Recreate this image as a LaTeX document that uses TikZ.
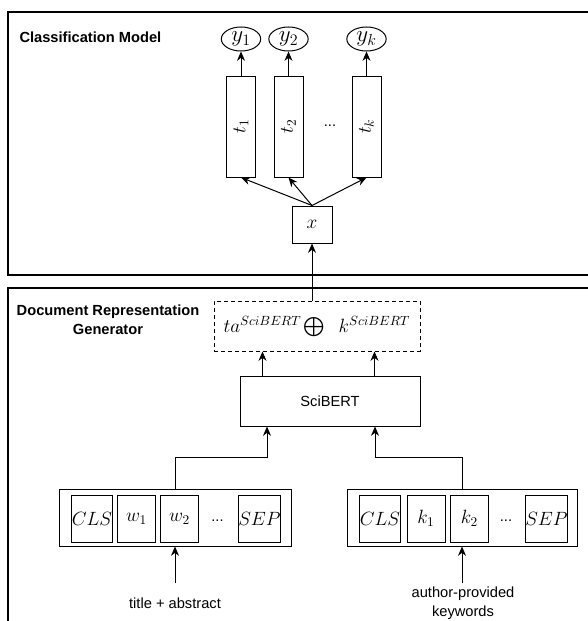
\documentclass[tikz,border=0pt]{standalone}
\usepackage[no-math]{fontspec}
\usepackage{exscale}
\setmainfont{Liberation Sans}
\usetikzlibrary{arrows.meta,shapes.geometric}

\begin{document}
\begin{tikzpicture}[x=0.75pt, y=-0.75pt, line width=0.75pt,
        >={Stealth[length=7pt, width=6pt]},
        txt/.style={font=\fontsize{11}{14}\selectfont, inner sep=0pt},
        heading/.style={font=\fontsize{11}{14}\selectfont\bfseries, align=center, inner sep=0pt},
        mth/.style={font=\Large, inner sep=0pt},
        cell/.style={draw, mth, minimum width=28.5pt, minimum height=35.25pt}]

    \useasboundingbox (0,0) rectangle (588,621);

    \draw[line width=1pt] (588,12) -- (8,12) -- (8,275) -- (588,275);
    \draw[line width=1pt] (588,288) -- (8,288) -- (8,621);

    \node[heading, anchor=west] (cm) at (19,37) {Classification Model};
    \node[heading] (drg) at (108,320) {Document Representation\\Generator};

    \foreach \i / \x in {1/241, 2/288.5, k/366.5} {
        \node[draw, ellipse, mth, font=\LARGE, minimum width=29.5pt, minimum height=18pt] (y-\i) at (\x,39) {$y_\i$};
        \node[draw, mth, rotate=90, minimum width=75.75pt, minimum height=21.75pt] (t-\i) at (\x,126.5) {$t_\i$};
    }
    \node[txt] (tdots) at (330,126) {...};

    \node[draw, mth, minimum width=30pt, minimum height=27.75pt] (x) at (312,224.5) {$x$};

    \foreach \i in {1,2,k} {
        \path (x.north) edge[->] (t-\i.west);
        \path (t-\i.east) edge[->] (y-\i.south);
    }

    \node[draw, dash pattern=on 3pt off 2.25pt, minimum width=154.5pt, minimum height=37.5pt] (rep) at (317,326) {};
    \node[mth, anchor=base] (ta) at (262.5,332) {$ta^{SciBERT}$};
    \node[mth] (plus) at (314,327.5) {$\bigoplus$};
    \node[mth, anchor=base] (kw) at (374.5,332) {$k^{SciBERT}$};

    \path (rep.north -| x) edge[->] (x.south);

    \node[draw, txt, minimum width=135pt, minimum height=37.5pt] (bert) at (330,401) {SciBERT};

    \path (bert.north -| ta) edge[->] (rep.south -| ta);
    \path (bert.north -| kw) edge[->] (rep.south -| kw);

    \node[draw, minimum width=174pt, minimum height=42.75pt] (inL) at (175,517.5) {};
    \node[draw, minimum width=172.5pt, minimum height=42.75pt] (inR) at (462,517.5) {};

    \foreach \n / \x / \s in {cls/92/CLS, w1/136.5/w_1, w2/179.5/w_2, sep/259.5/SEP}
        \node[cell] (l-\n) at (\x,518.5) {$\s$};
    \node[txt] (ldots) at (217.5,521) {...};

    \foreach \n / \x / \s in {cls/380/CLS, k1/426/k_1, k2/469.5/k_2, sep/546.5/SEP}
        \node[cell] (r-\n) at (\x,518.5) {$\s$};
    \node[txt] (rdots) at (506,521) {...};

    \coordinate (jL) at (267,457);
    \coordinate (jR) at (375,457);
    \draw[->] (inL.north) |- (jL) -- (jL |- bert.south);
    \draw[->] (inR.north) |- (jR) -- (jR |- bert.south);

    \node[txt] (srcL) at (175,603) {title + abstract};
    \node[txt, align=center] (srcR) at (463,603) {author-provided\\keywords};
    \coordinate (aL) at (175,583);
    \coordinate (aR) at (462,583);
    \path (aL) edge[->] (inL.south);
    \path (aR) edge[->] (inR.south);

\end{tikzpicture}
\end{document}
